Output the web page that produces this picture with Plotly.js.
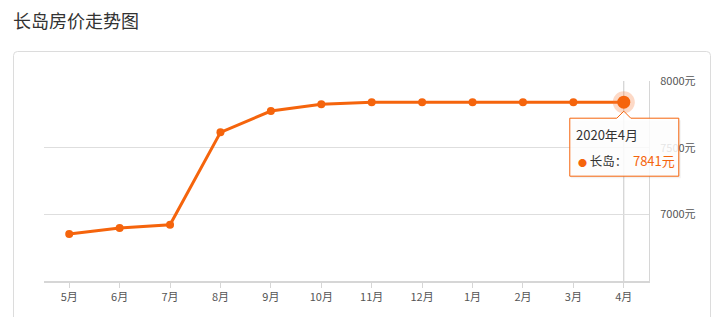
<!DOCTYPE html>
<html>
<head>
<meta charset="utf-8">
<script src="https://cdn.plot.ly/plotly-3.0.1.min.js"></script>
<style>
html,body{margin:0;padding:0;background:#fff;}
#chart{width:711px;height:317px;}
</style>
</head>
<body>
<div id="chart"></div>
<script>
const chartTitle = '长岛房价走势图';
const seriesName = '长岛';
const months = ['5月','6月','7月','8月','9月','10月','11月','12月','1月','2月','3月','4月'];
const prices = [6852, 6897, 6922, 7615, 7775, 7825, 7841, 7841, 7841, 7841, 7841, 7841];
const yTicks = [7000, 7500, 8000];
const yTickText = ['7000元', '7500元', '8000元'];
const yRange = [6500, 8000];
const tooltipLabel = '2020年4月';

const orange = '#f5640c';
const font = 'Noto Sans CJK SC, Microsoft YaHei, sans-serif';
const lastIdx = months.length - 1;
const lastX = months[lastIdx];
const lastY = prices[lastIdx];
// anchor of the tooltip in paper units, derived from the axis scales
const xRange = [-0.5, lastIdx + 0.5];
const anchorX = (lastIdx - xRange[0]) / (xRange[1] - xRange[0]);
const anchorY = (lastY - yRange[0]) / (yRange[1] - yRange[0]);

const traces = [
  {
    type: 'scatter', mode: 'lines+markers', x: months, y: prices, name: seriesName,
    line: {color: orange, width: 3},
    marker: {color: orange, size: 8},
    hoverinfo: 'skip'
  },
  {
    type: 'scatter', mode: 'markers', x: [lastX], y: [lastY],
    marker: {color: 'rgba(248,120,50,0.28)', size: 22},
    hoverinfo: 'skip', showlegend: false
  },
  {
    type: 'scatter', mode: 'markers', x: [lastX], y: [lastY],
    marker: {color: orange, size: 13},
    hoverinfo: 'skip', showlegend: false
  }
];

// card border (paper coordinates)
const L = -0.0504, R = 1.1017, T = 1.1475, B = -0.5, xr = 0.0066, yr = 0.02;
const cardPath = `M ${L},${B} L ${L},${T-yr} Q ${L},${T} ${L+xr},${T} L ${R-xr},${T} Q ${R},${T} ${R},${T-yr} L ${R},${B}`;

const layout = {
  width: 711, height: 317,
  margin: {l: 44, r: 62, t: 81, b: 36},
  paper_bgcolor: '#fff', plot_bgcolor: '#fff',
  showlegend: false,
  font: {family: font, color: '#555', size: 11},
  title: {
    text: chartTitle, xref: 'container', yref: 'container',
    x: 13/711, xanchor: 'left', y: 1 - 22/317, yanchor: 'middle',
    font: {family: font, size: 18, color: '#333'}
  },
  xaxis: {
    type: 'category', range: xRange,
    showgrid: false, zeroline: false,
    showline: true, linecolor: '#d6d6d6', linewidth: 2,
    ticks: 'outside', ticklen: 5, tickcolor: '#d6d6d6', tickwidth: 1,
    tickfont: {size: 11, color: '#555', family: font},
    fixedrange: true
  },
  yaxis: {
    side: 'right', range: yRange, tickmode: 'array', tickvals: yTicks, ticktext: yTickText,
    showgrid: true, gridcolor: '#dedede', gridwidth: 1, zeroline: false,
    showline: true, linecolor: '#d6d6d6', linewidth: 1,
    ticks: '', ticklabelstandoff: 8,
    tickfont: {size: 11, color: '#555', family: font},
    fixedrange: true
  },
  shapes: [
    {type: 'path', xref: 'paper', yref: 'paper', path: cardPath,
     line: {color: '#dcdcdc', width: 1}, layer: 'below'},
    {type: 'line', xref: 'x', yref: 'paper', x0: lastIdx, x1: lastIdx, y0: 0, y1: 1,
     line: {color: '#c8c8c8', width: 1}, layer: 'below'},
    // tooltip shadow
    {type: 'path', xref: 'paper', yref: 'paper', xsizemode: 'pixel', ysizemode: 'pixel',
     xanchor: anchorX, yanchor: anchorY,
     path: 'M -53,-18 L 57,-18 L 57,-76 L -53,-76 Z',
     fillcolor: 'rgba(0,0,0,0.05)', line: {width: 0}, layer: 'above'},
    {type: 'path', xref: 'paper', yref: 'paper', xsizemode: 'pixel', ysizemode: 'pixel',
     xanchor: anchorX, yanchor: anchorY,
     path: 'M -54,-16 L -7,-16 L 0,-9 L 7,-16 L 55,-16 L 55,-74 L -54,-74 Z',
     fillcolor: 'rgba(255,255,255,0.85)', line: {color: orange, width: 1}, layer: 'above'}
  ],
  annotations: [
    {xref: 'x', yref: 'y', x: lastX, y: lastY, showarrow: false,
     xanchor: 'left', yanchor: 'middle', xshift: -50, yshift: -32,
     text: tooltipLabel, font: {family: font, size: 13, color: '#333'}},
    {xref: 'x', yref: 'y', x: lastX, y: lastY, showarrow: false,
     xanchor: 'left', yanchor: 'middle', xshift: -48, yshift: -58,
     text: `<span style="color:${orange};font-size:9px">●</span> ${seriesName}：  <span style="color:${orange};font-size:13px">${lastY}元</span>`,
     font: {family: font, size: 12.5, color: '#333'}}
  ]
};

Plotly.newPlot('chart', traces, layout, {displayModeBar: false, staticPlot: true});
</script>
</body>
</html>
